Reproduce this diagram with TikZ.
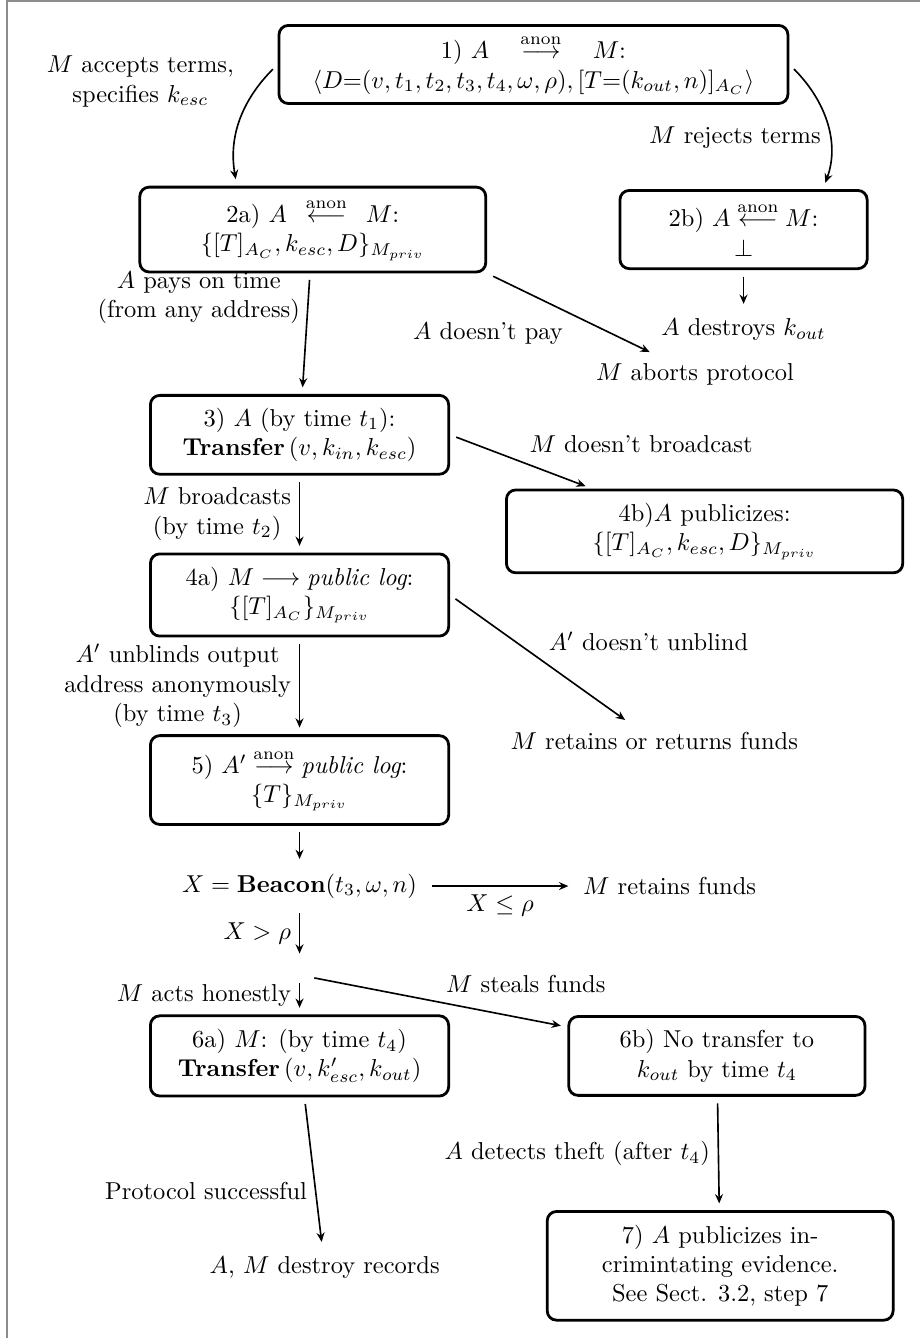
\RequirePackage{fix-cm}
\documentclass[tikz,border=0pt]{standalone}
\usepackage{amsmath}
\usepackage{amssymb}
\usepackage{tikz}
\usepackage{xcolor}
\newcommand{\anonto}{\overset{\text{anon}}{\longrightarrow}}
\newcommand{\anonfrom}{\overset{\text{anon}}{\longleftarrow}}
\newcommand{\kesc}{\ensuremath{k_{esc}}}
\newcommand{\kout}{\ensuremath{k_{out}}}
\newcommand{\Mpriv}{\ensuremath{M_{priv}}}
\newcommand{\TAC}{\ensuremath{[T]_{A_C}}}
\usetikzlibrary{arrows.meta,positioning}
\definecolor{frameGray}{HTML}{8C8C8C}
\tikzset{
  stepBox/.style={draw, very thick, rounded corners=4pt, align=center, inner sep=4pt, minimum width=4.5cm, minimum height=1.2cm},
  flowArrow/.style={-{Stealth[length=1.4mm, width=1.2mm]}, line width=0.7pt, shorten >=1mm, shorten <=1mm},
  flowLabel/.style={align=center},
  outcome/.style={align=center}
}

\begin{document}
\begin{tikzpicture}[node distance=1cm, font=\fontsize{10.5pt}{12.6pt}\selectfont]
  \useasboundingbox (-8.05,0.973) rectangle (5.832,-19.217);
  \draw[frameGray, line width=0.8pt] (-7.945,-19.6) -- (-7.945,0.958) -- (6.0,0.958);

  \node[stepBox, minimum width=7.68cm, minimum height=1.13cm] (terms) {1) $A\quad\anonto\quad M$:\\ $\langle D{=}(v,t_1,t_2,t_3,t_4,\omega,\rho),[T{=}(\kout,n)]_{A_C}\rangle$};
  \node[stepBox, minimum width=5.22cm, minimum height=1.28cm, below=1.22cm of terms, xshift=-3.33cm] (offer) {2a) $A\enspace\anonfrom\enspace M$:\\ $\{\TAC,\kesc,D\}_{\Mpriv}$};
  \node[stepBox, minimum width=3.73cm, minimum height=1.18cm, below=1.27cm of terms, xshift=3.17cm] (reject) {2b) $A \anonfrom M$:\\ $\bot$};
  \node[stepBox, minimum height=1.19cm, below=1.82cm of offer, xshift=-0.2cm] (transfer) {3) $A$ (by time $t_1$):\\ \textbf{Transfer}\,$(v,k_{in},\kesc)$};
  \node[stepBox, minimum height=1.24cm, below=1.16cm of transfer] (log) {4a) $M \longrightarrow \textit{public log}$:\\ $\{\TAC\}_{\Mpriv}$};
  \node[stepBox, minimum width=5.98cm, minimum height=1.25cm, right=0.83cm of log, yshift=0.96cm] (publicize) {4b)$A$ publicizes:\\ $\{\TAC,\kesc,D\}_{\Mpriv}$};
  \node[stepBox, minimum height=1.34cm, below=1.46cm of log] (unblind) {5) $A' \anonto \textit{public log}$:\\ $\{T\}_{\Mpriv}$};
  \node[below=0.60cm of unblind] (beacon) {$X = \textbf{Beacon}(t_3,\omega,n)$};
  \node[below=0.81cm of beacon] (fork) {};
  \node[stepBox, minimum height=1.21cm, below=0.57cm of fork] (honest) {6a) $M$: (by time $t_4$)\\ \textbf{Transfer}\,$(v,k'_{esc},\kout)$};
  \node[stepBox, minimum width=4.47cm, minimum height=1.19cm, right=1.77cm of honest] (nosettle) {6b) No transfer to\\ $\kout$ by time $t_4$};
  \node[stepBox, minimum width=5.22cm, minimum height=1.64cm, below=1.71cm of nosettle, xshift=0.05cm] (evidence) {7) $A$ publicizes in-\\crimintating evidence.\\See Sect. 3.2, step 7};

  \node[outcome, right=1.52cm of offer, yshift=-2.18cm] (abort) {$M$ aborts protocol};
  \node[outcome, below=0.61cm of reject] (destroy) {$A$ destroys $\kout$};
  \node[outcome, right=0.79cm of log, yshift=-2.20cm] (retreturn) {$M$ retains or returns funds};
  \node[outcome, right=2.26cm of beacon] (retains) {$M$ retains funds};
  \node[outcome, below=2.28cm of honest, xshift=0.38cm] (records) {$A$, $M$ destroy records};

  \draw[flowArrow] (terms.west) to[out=225, in=100] node[pos=0.16, left=0.3cm, flowLabel] (acceptLbl) {$M$ accepts terms,\\ specifies $\kesc$} (offer.150);
  \draw[flowArrow] (terms.east) to[out=-45, in=70] node[pos=0.62, left] (rejectLbl) {$M$ rejects terms} (reject.27);
  \draw[flowArrow] (offer) -- node[pos=0.2, left, flowLabel] (payLbl) {$A$ pays on time\\ (from any address)} (transfer);
  \draw[flowArrow] (offer.south east) -- node[below left] (noPayLbl) {$A$ doesn't pay} (abort);
  \draw[flowArrow] (reject) -- (destroy);
  \draw[flowArrow] (transfer.east) -- node[above right] (noCastLbl) {$M$ doesn't broadcast} (publicize);
  \draw[flowArrow] (transfer) -- node[left, flowLabel] (castLbl) {$M$ broadcasts\\ (by time $t_2$)} (log);
  \draw[flowArrow] (log.east) -- node[above right] (noBlindLbl) {$A'$ doesn't unblind} (retreturn);
  \draw[flowArrow] (log) -- node[left, flowLabel] (blindLbl) {$A'$ unblinds output\\ address anonymously\\ (by time $t_3$)} (unblind);
  \draw[flowArrow] (unblind) -- (beacon);
  \draw[flowArrow] (beacon) -- node[below] (lowLbl) {$X \leq \rho$} (retains);
  \draw[flowArrow] (beacon) -- node[left] (highLbl) {$X > \rho$} (fork);
  \draw[flowArrow] (fork) -- node[left] (honestLbl) {$M$ acts honestly} (honest);
  \draw[flowArrow] (fork.south east) -- node[above right] (stealLbl) {$M$ steals funds} (nosettle);
  \draw[flowArrow] (honest) -- node[pos=0.62, left] (okLbl) {Protocol successful} (records);
  \draw[flowArrow] (nosettle) -- node[left] (theftLbl) {$A$ detects theft (after $t_4$)} (evidence);
\end{tikzpicture}
\end{document}
